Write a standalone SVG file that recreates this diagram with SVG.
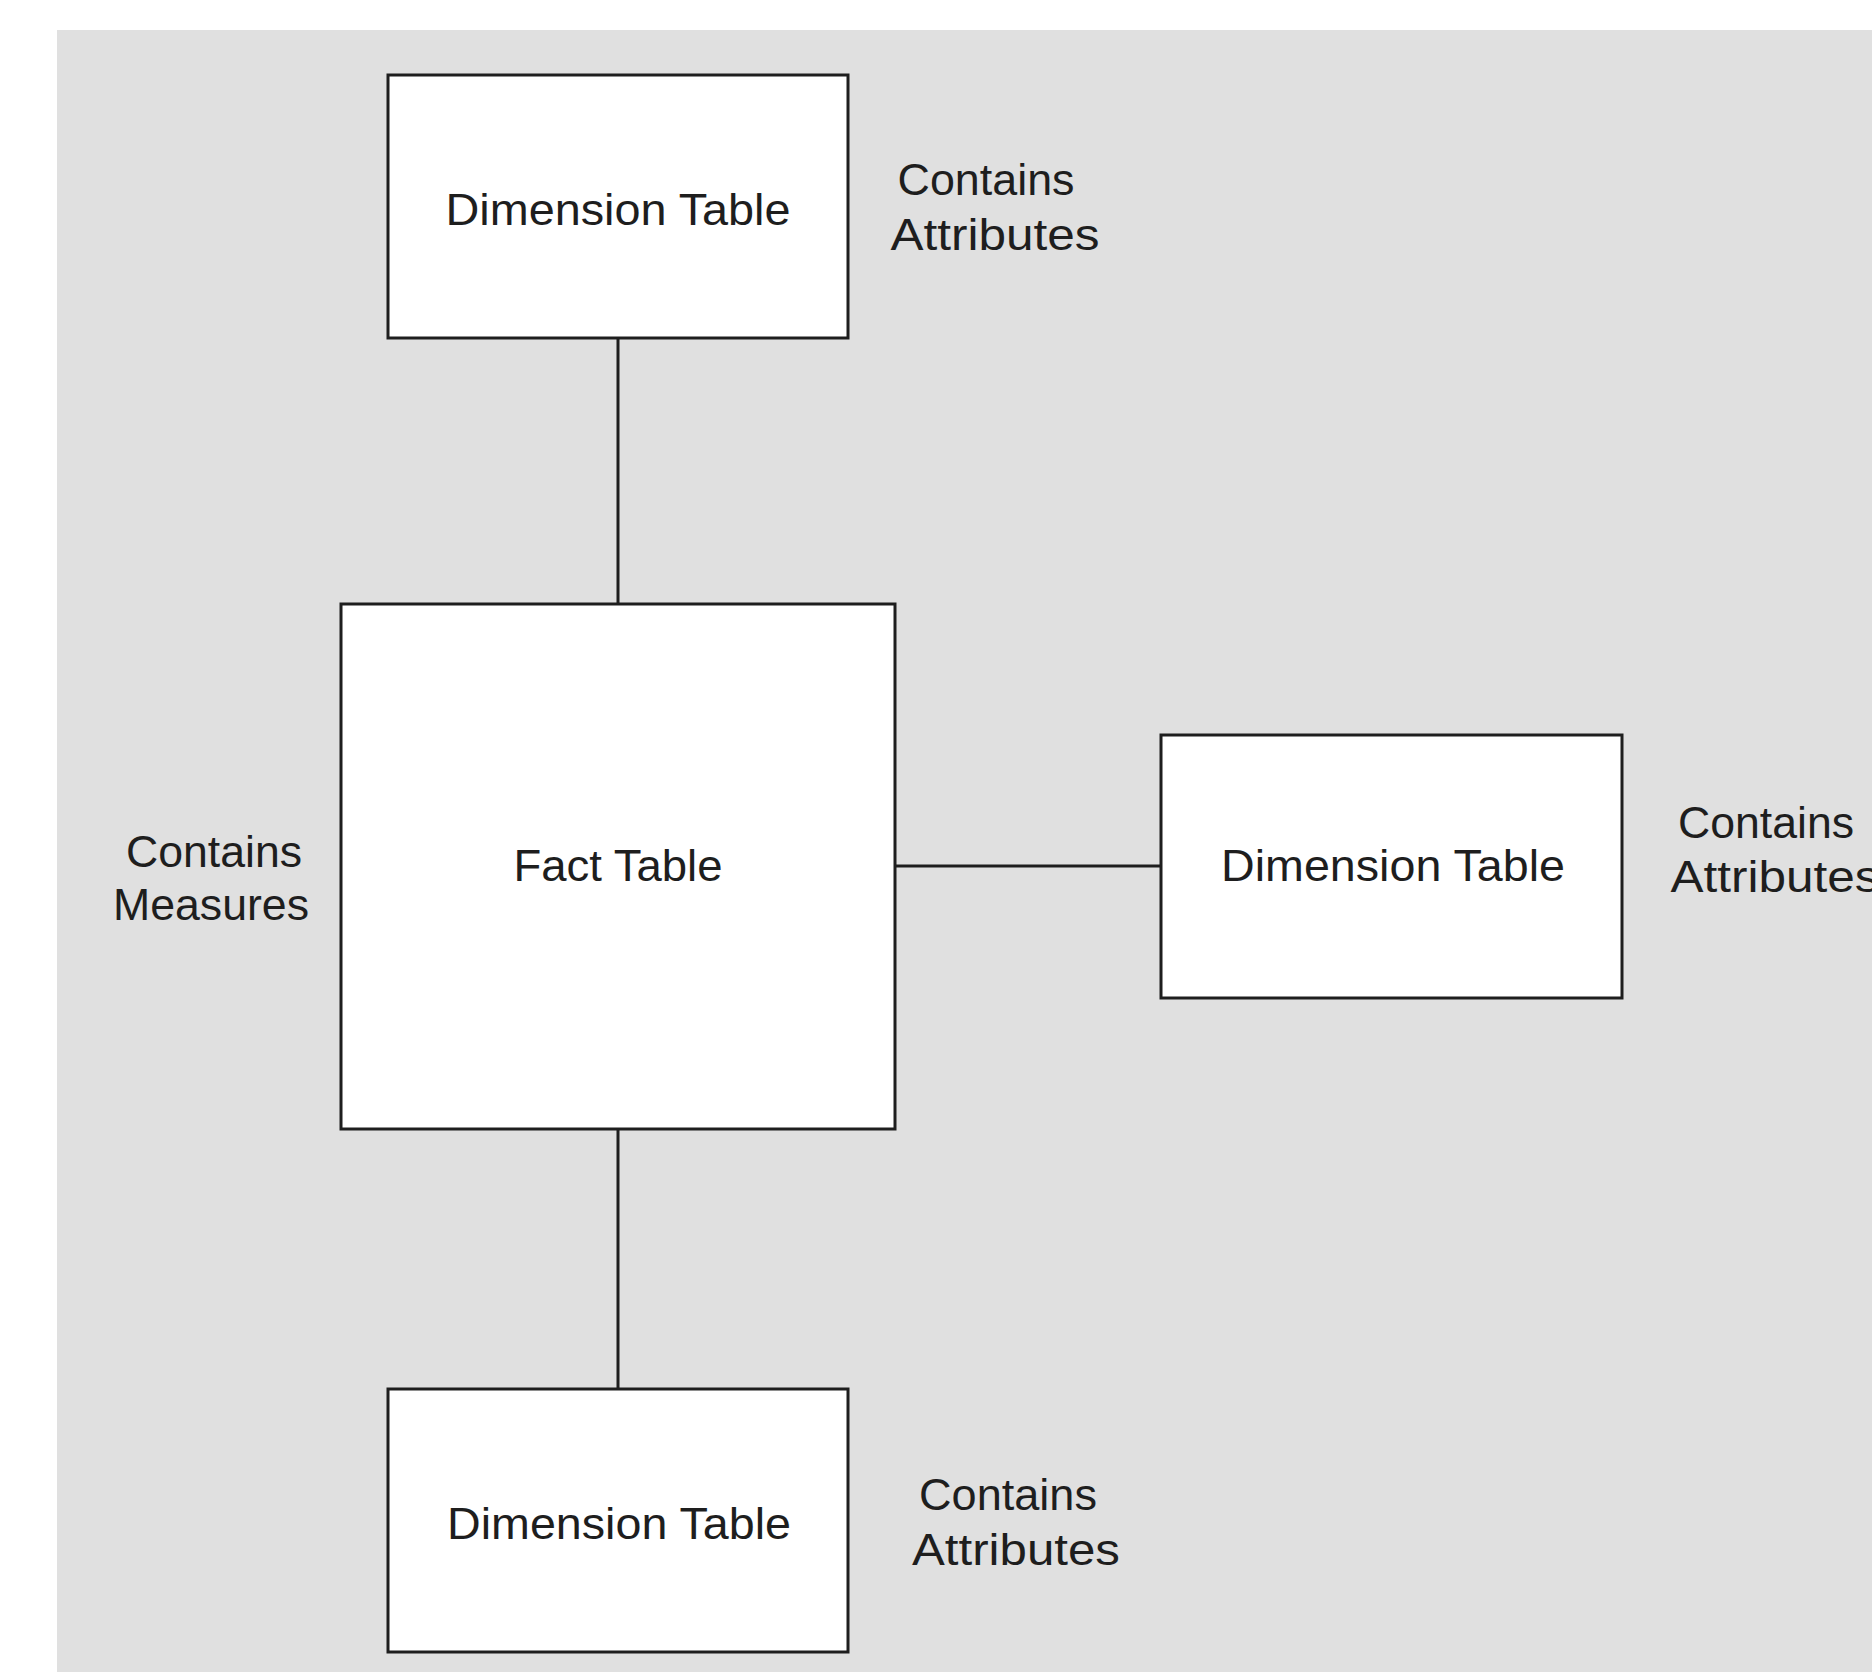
<svg xmlns="http://www.w3.org/2000/svg" width="1872" height="1672" viewBox="0 0 1872 1672">
  <style>
    .box { fill: #ffffff; stroke: #1e1e1e; stroke-width: 3; }
    .link { stroke: #1e1e1e; stroke-width: 3; fill: none; }
    .lbl { font-family: "Liberation Sans", Arial, sans-serif; font-size: 45px; fill: #1e1e1e; text-anchor: middle; }
  </style>

  <!-- page and grey panel -->
  <rect x="0" y="0" width="1872" height="1672" fill="#ffffff"/>
  <rect x="57" y="30" width="1815" height="1642" fill="#e0e0e0"/>

  <!-- connectors from the fact table to each dimension table -->
  <g id="connectors">
    <line class="link" x1="618" y1="338" x2="618" y2="604"/>
    <line class="link" x1="895" y1="866" x2="1161" y2="866"/>
    <line class="link" x1="618" y1="1129" x2="618" y2="1389"/>
  </g>

  <g id="dim-top">
    <rect class="box" x="388" y="75" width="460" height="263"/>
    <text class="lbl" x="618" y="225" textLength="345" lengthAdjust="spacingAndGlyphs">Dimension Table</text>
  </g>
  <g id="dim-top-note">
    <text class="lbl" x="986" y="195" textLength="177" lengthAdjust="spacingAndGlyphs">Contains</text>
    <text class="lbl" x="995" y="250" textLength="209" lengthAdjust="spacingAndGlyphs">Attributes</text>
  </g>

  <g id="fact">
    <rect class="box" x="341" y="604" width="554" height="525"/>
    <text class="lbl" x="618" y="881" textLength="209" lengthAdjust="spacingAndGlyphs">Fact Table</text>
  </g>
  <g id="fact-note">
    <text class="lbl" x="214" y="867" textLength="176" lengthAdjust="spacingAndGlyphs">Contains</text>
    <text class="lbl" x="211" y="920" textLength="196" lengthAdjust="spacingAndGlyphs">Measures</text>
  </g>

  <g id="dim-right">
    <rect class="box" x="1161" y="735" width="461" height="263"/>
    <text class="lbl" x="1393" y="881" textLength="344" lengthAdjust="spacingAndGlyphs">Dimension Table</text>
  </g>
  <g id="dim-right-note">
    <text class="lbl" x="1766" y="838" textLength="176" lengthAdjust="spacingAndGlyphs">Contains</text>
    <text class="lbl" x="1775" y="892" textLength="209" lengthAdjust="spacingAndGlyphs">Attributes</text>
  </g>

  <g id="dim-bottom">
    <rect class="box" x="388" y="1389" width="460" height="263"/>
    <text class="lbl" x="619" y="1539" textLength="344" lengthAdjust="spacingAndGlyphs">Dimension Table</text>
  </g>
  <g id="dim-bottom-note">
    <text class="lbl" x="1008" y="1510" textLength="178" lengthAdjust="spacingAndGlyphs">Contains</text>
    <text class="lbl" x="1016" y="1565" textLength="208" lengthAdjust="spacingAndGlyphs">Attributes</text>
  </g>
</svg>
